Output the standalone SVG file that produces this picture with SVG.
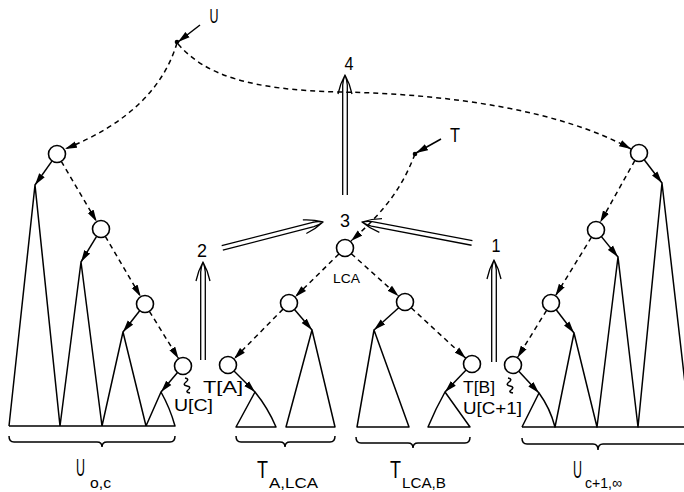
<svg xmlns="http://www.w3.org/2000/svg" width="684" height="492" viewBox="0 0 684 492">
<style>
.ln{fill:none;stroke:#000;stroke-width:1.5;stroke-linejoin:round}
.ds{fill:none;stroke:#000;stroke-width:1.5;stroke-dasharray:5,4}
.so{fill:none;stroke:#000;stroke-width:1.5}
.nd{fill:#fff;stroke:#000;stroke-width:1.6}
.dot{fill:#000}
.dbl{fill:none;stroke:#000;stroke-width:1.3;stroke-linejoin:round}
.br{fill:none;stroke:#000;stroke-width:1.5}
text{font-family:"Liberation Sans Narrow","Liberation Sans",Arial,sans-serif;fill:#000}
.big{font-size:21px}
.bot{font-size:23px}
.num{font-size:18px}
.lab{font-size:16px}
.sm{font-size:13px}
.sub{font-size:15px}
</style>
<defs>
<marker id="ah" markerUnits="userSpaceOnUse" markerWidth="13" markerHeight="8" refX="12" refY="4" orient="auto">
<path d="M0,0.6 L12,4 L0,7.4 z" fill="#000"/>
</marker>
</defs>
<rect width="684" height="492" fill="#fff"/>

<g id="subtrees">
<path class="ln" d="M9,426 L35,185 L60,426 L81,262 L102,426 L123,332 L146,426 L161,392 Q170,408 175,426 L9,426"/>
<path class="ln" d="M236,427 L255,392 Q268,408 276,427 Z"/>
<path class="ln" d="M286,427 L312,330 L335,427 Z"/>
<path class="ln" d="M357,427 L374,330 L409,427 Z"/>
<path class="ln" d="M428,427 Q436,408 445,392 L470,427 Z"/>
<path class="ln" d="M522,427 L539,393 Q550,408 555,427 L574,333 L597,427 L618,257 L638,427 L662,183 L690,427"/>
<path class="ln" d="M522,427 L684,427"/>
</g>

<g id="connectors">
<path class="so" d="M200,25 L178,42" marker-end="url(#ah)"/>
<path class="so" d="M441,139 L416,153" marker-end="url(#ah)"/>
<path class="ds" d="M177,43 C163,90 125,125 65,149" marker-end="url(#ah)"/>
<path class="ds" d="M178,44 C205,75 250,90 340,92 C450,94 560,110 631,149" marker-end="url(#ah)"/>
<path class="ds" d="M415,154 C403,185 388,208 351,241" marker-end="url(#ah)"/>
<path class="so" d="M52.1,160.9 L35,185" marker-end="url(#ah)"/>
<path class="ds" d="M61.3,161.3 L96.7,221.7" marker-end="url(#ah)"/>
<path class="so" d="M96.6,236.3 L81,262" marker-end="url(#ah)"/>
<path class="ds" d="M105.3,236.3 L140.7,296.7" marker-end="url(#ah)"/>
<path class="so" d="M139.7,310.7 L123,332" marker-end="url(#ah)"/>
<path class="ds" d="M149.4,311.3 L178.6,358.7" marker-end="url(#ah)"/>
<path class="so" d="M177.5,372.5 L161,392" marker-end="url(#ah)"/>
<path class="so" d="M644.2,159.7 L662,183" marker-end="url(#ah)"/>
<path class="ds" d="M634.9,160.4 L600.1,222.6" marker-end="url(#ah)"/>
<path class="so" d="M601.4,236.6 L618,257" marker-end="url(#ah)"/>
<path class="ds" d="M591.5,237.2 L555.5,295.8" marker-end="url(#ah)"/>
<path class="so" d="M556.2,309.7 L574,333" marker-end="url(#ah)"/>
<path class="ds" d="M546.6,310.3 L517.4,357.7" marker-end="url(#ah)"/>
<path class="so" d="M518.8,371.2 L539,393" marker-end="url(#ah)"/>
<path class="ds" d="M338.9,254 L295.1,297" marker-end="url(#ah)"/>
<path class="so" d="M294.5,309.5 L312,330" marker-end="url(#ah)"/>
<path class="ds" d="M283,309.1 L234,358.9" marker-end="url(#ah)"/>
<path class="so" d="M234,371 L255,392" marker-end="url(#ah)"/>
<path class="ds" d="M351.3,253.7 L398.7,296.3" marker-end="url(#ah)"/>
<path class="so" d="M398.7,307.7 L374,330" marker-end="url(#ah)"/>
<path class="ds" d="M411.2,307.8 L465.8,358.2" marker-end="url(#ah)"/>
<path class="so" d="M466.1,370.1 L445,392" marker-end="url(#ah)"/>
<path class="so" stroke-width="1.2" d="M185,378 q5,1 1,4 q-4,3 1,4 q5,1 1,4 q-3,2 2,3"/>
<path class="so" stroke-width="1.2" d="M508,378 q5,1 1,4 q-4,3 1,4 q5,1 1,4 q-3,2 2,3"/>
<g id="arrow4" transform="translate(345,75)">
<path class="dbl" d="M-2.3,120 V10 Q-2,5 0,0 Q2,5 2.3,10 V120 M-7,19 Q-5,9 0,0 Q5,9 7,19"/>
</g>
<g id="arrow2" transform="translate(203,262)">
<path class="dbl" d="M-2.3,98 V10 Q-2,5 0,0 Q2,5 2.3,10 V98 M-7,19 Q-5,9 0,0 Q5,9 7,19"/>
</g>
<g id="arrow1" transform="translate(494,260)">
<path class="dbl" d="M-2.3,102 V10 Q-2,5 0,0 Q2,5 2.3,10 V102 M-7,19 Q-5,9 0,0 Q5,9 7,19"/>
</g>
<g id="arrow2to3" transform="translate(323,222) rotate(75.6)">
<path class="dbl" d="M-2.3,104 V10 Q-2,5 0,0 Q2,5 2.3,10 V104 M-7,19 Q-5,9 0,0 Q5,9 7,19"/>
</g>
<g id="arrow1to3" transform="translate(362,222) rotate(-79.2)">
<path class="dbl" d="M-2.3,112 V10 Q-2,5 0,0 Q2,5 2.3,10 V112 M-7,19 Q-5,9 0,0 Q5,9 7,19"/>
</g>
<path class="br" d="M9,436 Q9,442 14,442 L97,442 Q102,442 102,447 Q102,442 107,442 L170,442 Q175,442 175,436"/>
<path class="br" d="M236,436 Q236,442 241,442 L280,442 Q285,442 285,447 Q285,442 290,442 L330,442 Q335,442 335,436"/>
<path class="br" d="M356,437 Q356,443 361,443 L408,443 Q413,443 413,448 Q413,443 418,443 L465,443 Q470,443 470,437"/>
<path class="br" d="M522,438 Q522,444 527,444 L593,444 Q598,444 598,450 Q598,444 603,444 L684,444"/>
</g>

<g id="node-U"><circle class="dot" cx="177" cy="42" r="2.3"/><text class="big" x="214" y="23" text-anchor="middle" textLength="9" lengthAdjust="spacingAndGlyphs">U</text></g>
<g id="node-T"><circle class="dot" cx="415" cy="154" r="2.3"/><text class="big" x="455" y="142" text-anchor="middle" textLength="10" lengthAdjust="spacingAndGlyphs">T</text></g>
<g id="node-A1"><circle class="nd" cx="57" cy="154" r="8.5"/></g>
<g id="node-A2"><circle class="nd" cx="101" cy="229" r="8.5"/></g>
<g id="node-A3"><circle class="nd" cx="145" cy="304" r="8.5"/></g>
<g id="node-A4"><circle class="nd" cx="183" cy="366" r="8.5"/><text class="lab" x="174" y="411" textLength="39" lengthAdjust="spacingAndGlyphs">U[C]</text></g>
<g id="node-B1"><circle class="nd" cx="639" cy="153" r="8.5"/></g>
<g id="node-B2"><circle class="nd" cx="596" cy="230" r="8.5"/></g>
<g id="node-B3"><circle class="nd" cx="551" cy="303" r="8.5"/></g>
<g id="node-B4"><circle class="nd" cx="513" cy="365" r="8.5"/><text class="lab" x="463" y="414" textLength="59" lengthAdjust="spacingAndGlyphs">U[C+1]</text></g>
<g id="node-LCA"><circle class="nd" cx="345" cy="248" r="8.5"/><text class="sm" x="333" y="283" textLength="27" lengthAdjust="spacingAndGlyphs">LCA</text></g>
<g id="node-L1"><circle class="nd" cx="289" cy="303" r="8.5"/></g>
<g id="node-L2"><circle class="nd" cx="228" cy="365" r="8.5"/><text class="lab" x="203" y="393" textLength="40" lengthAdjust="spacingAndGlyphs">T[A]</text></g>
<g id="node-R1"><circle class="nd" cx="405" cy="302" r="8.5"/></g>
<g id="node-R2"><circle class="nd" cx="472" cy="364" r="8.5"/><text class="lab" x="463" y="393" textLength="32" lengthAdjust="spacingAndGlyphs">T[B]</text></g>

<g id="labels">
<text class="num" x="349" y="70" text-anchor="middle" textLength="9" lengthAdjust="spacingAndGlyphs">4</text>
<text class="num" x="345" y="227" text-anchor="middle" textLength="10" lengthAdjust="spacingAndGlyphs">3</text>
<text class="num" x="202" y="257" text-anchor="middle" textLength="10" lengthAdjust="spacingAndGlyphs">2</text>
<text class="num" x="496" y="252" text-anchor="middle" textLength="9" lengthAdjust="spacingAndGlyphs">1</text>
<text class="bot" x="76" y="476" textLength="9" lengthAdjust="spacingAndGlyphs">U</text>
<text class="sub" x="90" y="488" textLength="21" lengthAdjust="spacingAndGlyphs">o,c</text>
<text class="bot" x="257" y="478" textLength="11" lengthAdjust="spacingAndGlyphs">T</text>
<text class="sub" x="269" y="488" textLength="49" lengthAdjust="spacingAndGlyphs">A,LCA</text>
<text class="bot" x="390" y="478" textLength="11" lengthAdjust="spacingAndGlyphs">T</text>
<text class="sub" x="402" y="488" textLength="44" lengthAdjust="spacingAndGlyphs">LCA,B</text>
<text class="bot" x="573" y="478" textLength="9" lengthAdjust="spacingAndGlyphs">U</text>
<text class="sub" x="585" y="488" textLength="37" lengthAdjust="spacingAndGlyphs">c+1,∞</text>
</g>
</svg>
